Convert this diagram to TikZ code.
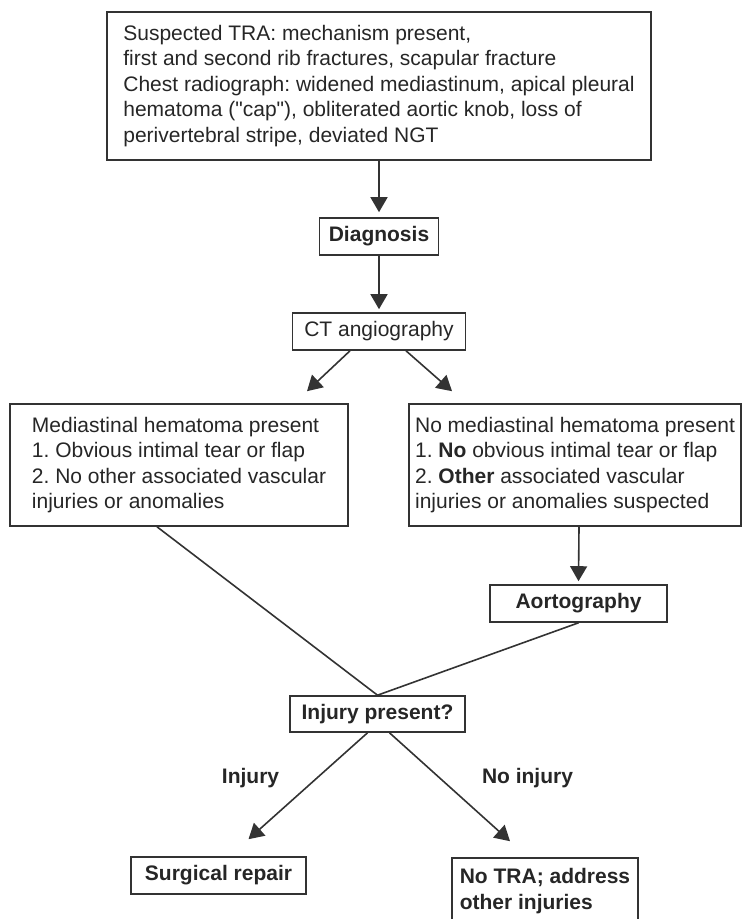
\documentclass[tikz,border=0pt]{standalone}
\usepackage{fontspec}
\setmainfont{Liberation Sans}
\newfontfamily\plainfont{Liberation Sans}
\usetikzlibrary{arrows.meta,calc}

\newcommand{\fsz}{\fontsize{10.5}{12.75}\selectfont\frenchspacing}
\newcommand{\sq}{{\plainfont"}}

\begin{document}
\begin{tikzpicture}[x=0.5pt,y=-0.5pt,
    every node/.style={font=\fsz, text=black!85},
    box/.style={draw=black!80, line width=0.8pt, inner sep=0pt},
    textbox/.style={box, align=left},
    link/.style={draw=black!80, line width=0.8pt},
    arrow/.style={link, -{Triangle[width=8.5pt,length=7.5pt]}}]
    \useasboundingbox (0,0) rectangle (746,919);

    % suspicion
    \node[textbox, minimum width=272pt, minimum height=74pt] (susp) at (379,86)
        {Suspected TRA: mechanism present,\\
         first and second rib fractures, scapular fracture\\
         Chest radiograph: widened mediastinum, apical pleural\\
         hematoma (\sq cap\sq), obliterated aortic knob, loss of\\
         perivertebral stripe, deviated NGT};
    \node[box, font=\fsz\bfseries, minimum width=59.5pt, minimum height=18.5pt] (diag) at (379,236.5) {Diagnosis};
    \node[box, minimum width=86.5pt, minimum height=18.5pt] (ct) at (379,331.5) {CT angiography};

    % CT findings
    \node[textbox, minimum width=169pt, minimum height=61pt] (left) at (179,465)
        {Mediastinal hematoma present\\
         1. Obvious intimal tear or flap\\
         2. No other associated vascular\\
         injuries or anomalies};
    \node[textbox, minimum width=166pt, minimum height=61pt] (right) at (575,465)
        {No mediastinal hematoma present\\
         1. \textbf{No} obvious intimal tear or flap\\
         2. \textbf{Other} associated vascular\\
         injuries or anomalies suspected};
    \node[box, font=\fsz\bfseries, minimum width=88.5pt, minimum height=18.5pt] (aort) at (578.5,603.5) {Aortography};
    \node[box, font=\fsz\bfseries, minimum width=87.5pt, minimum height=18pt] (injury) at (377.5,714) {Injury present?};

    % outcome
    \node[box, font=\fsz\bfseries, minimum width=87.5pt, minimum height=18.5pt] (surg) at (218.5,875.5) {Surgical repair};
    \node[textbox, font=\fsz\bfseries, minimum width=93pt, minimum height=33pt] (notra) at (545,891)
        {No TRA; address\\ other injuries};
    \node[font=\fsz\bfseries] (lyes) at (250.5,778) {Injury};
    \node[font=\fsz\bfseries] (lno) at (527.5,778) {No injury};

    \draw[arrow] (susp.south) -- ($(diag.north)+(0,-5)$);
    \draw[arrow] (diag.south) -- ($(ct.north)+(0,-3)$);
    \draw[arrow] ($(ct.south)+(-29,0)$) -- ($(left.north)+(128,-12)$);
    \draw[arrow] ($(ct.south)+(27,0)$) -- ($(right.north)+(-123,-12)$);
    \draw[arrow] ($(right.south)+(4,0)$) -- ($(aort.north)+(0,-3)$);
    \draw[link] ($(left.south)+(-22,0)$) -- (injury.north);
    \draw[link] (aort.south) -- (injury.north);
    \draw[arrow] ($(injury.south)+(-10,0)$) -- ($(surg.north)+(30,-17)$);
    \draw[arrow] ($(injury.south)+(12,0)$) -- ($(notra.north)+(-35,-16)$);
\end{tikzpicture}
\end{document}
